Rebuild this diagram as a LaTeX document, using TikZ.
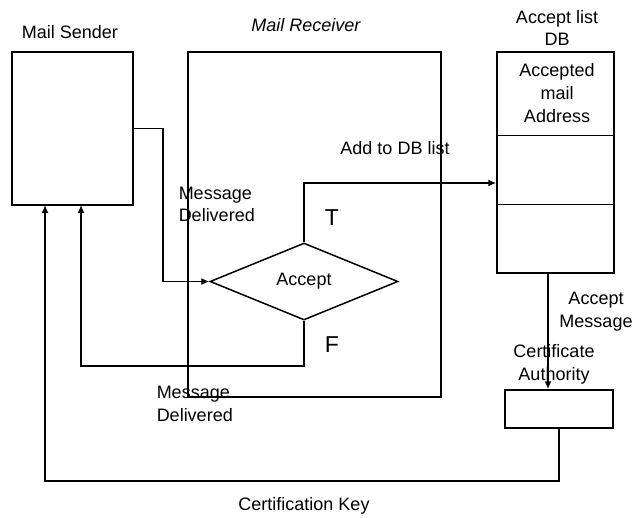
\documentclass[tikz,border=0pt]{standalone}
\usepackage{fontspec}
\setmainfont{Liberation Sans}
\usetikzlibrary{shapes.geometric,arrows.meta}

\begin{document}
\begin{tikzpicture}[x=1pt,y=-1pt,line width=1.5pt,
  box/.style={draw,rectangle,inner sep=0pt},
  lbl/.style={align=center,inner sep=0pt,font=\fontsize{18}{22.5}\selectfont},
  big/.style={inner sep=0pt,font=\fontsize{23}{24}\selectfont},
  arr/.style={-{Latex[length=8pt,width=7pt]}}]
\useasboundingbox (0,0) rectangle (644,517);
% boxes
\node[box,minimum width=121pt,minimum height=153pt] (sender) at (72.5,128.5) {};
\node[box,minimum width=253pt,minimum height=345pt] (receiver) at (314.5,224.5) {};
\node[box,minimum width=117pt,minimum height=221pt] (db) at (555.5,162.5) {};
\node[box,minimum width=108pt,minimum height=38pt] (ca) at (559,409) {};
\node[draw,diamond,inner sep=0pt,minimum width=188pt,minimum height=77pt,
  font=\fontsize{18}{20}\selectfont] (accept) at (304,281.5) {Accept};
\draw ([yshift=-84pt]db.north west) -- ([yshift=-84pt]db.north east);
\draw ([yshift=-153pt]db.north west) -- ([yshift=-153pt]db.north east);

% labels
\node[lbl] (sendertxt) at (70,32) {Mail Sender};
\node[lbl,font=\fontsize{18}{22.5}\selectfont\itshape] (receivertxt) at (306,25) {Mail Receiver};
\node[lbl] (dbtxt) at (557,28) {Accept list\\DB};
\node[lbl,font=\fontsize{18}{23}\selectfont] (addrtxt) at (557,93) {Accepted\\mail\\Address};
\node[lbl] (addtxt) at (395,148) {Add to DB list};
\node[lbl,anchor=west,align=left] (deliv1) at (178,204.5) {Message\\Delivered};
\node[lbl,anchor=west,align=left] (deliv2) at (156,404) {Message\\Delivered};
\node[big] (ttxt) at (332,218) {T};
\node[big] (ftxt) at (332,345) {F};
\node[lbl] (msgtxt) at (596,311.5) {Accept\\Message};
\node[lbl] (catxt) at (554,364.5) {Certificate\\Authority};
\node[lbl] (keytxt) at (304,506) {Certification Key};

% connectors
\coordinate (addy) at (0,183);
\coordinate (fin) at (81,205);
\coordinate (keyin) at (45,205);
\coordinate (cax) at (548,0);
\draw[arr] (sender.east) -- ++(29,0) |- (accept.west);
\draw[arr] (accept.north) |- (db.west |- addy);
\draw[arr] (accept.south) -- ++(0,45) -| (fin);
\draw[arr] (db.south -| cax) -- (ca.north -| cax);
\draw[arr] (ca.south) -- ++(0,52) -| (keyin);
\end{tikzpicture}
\end{document}
